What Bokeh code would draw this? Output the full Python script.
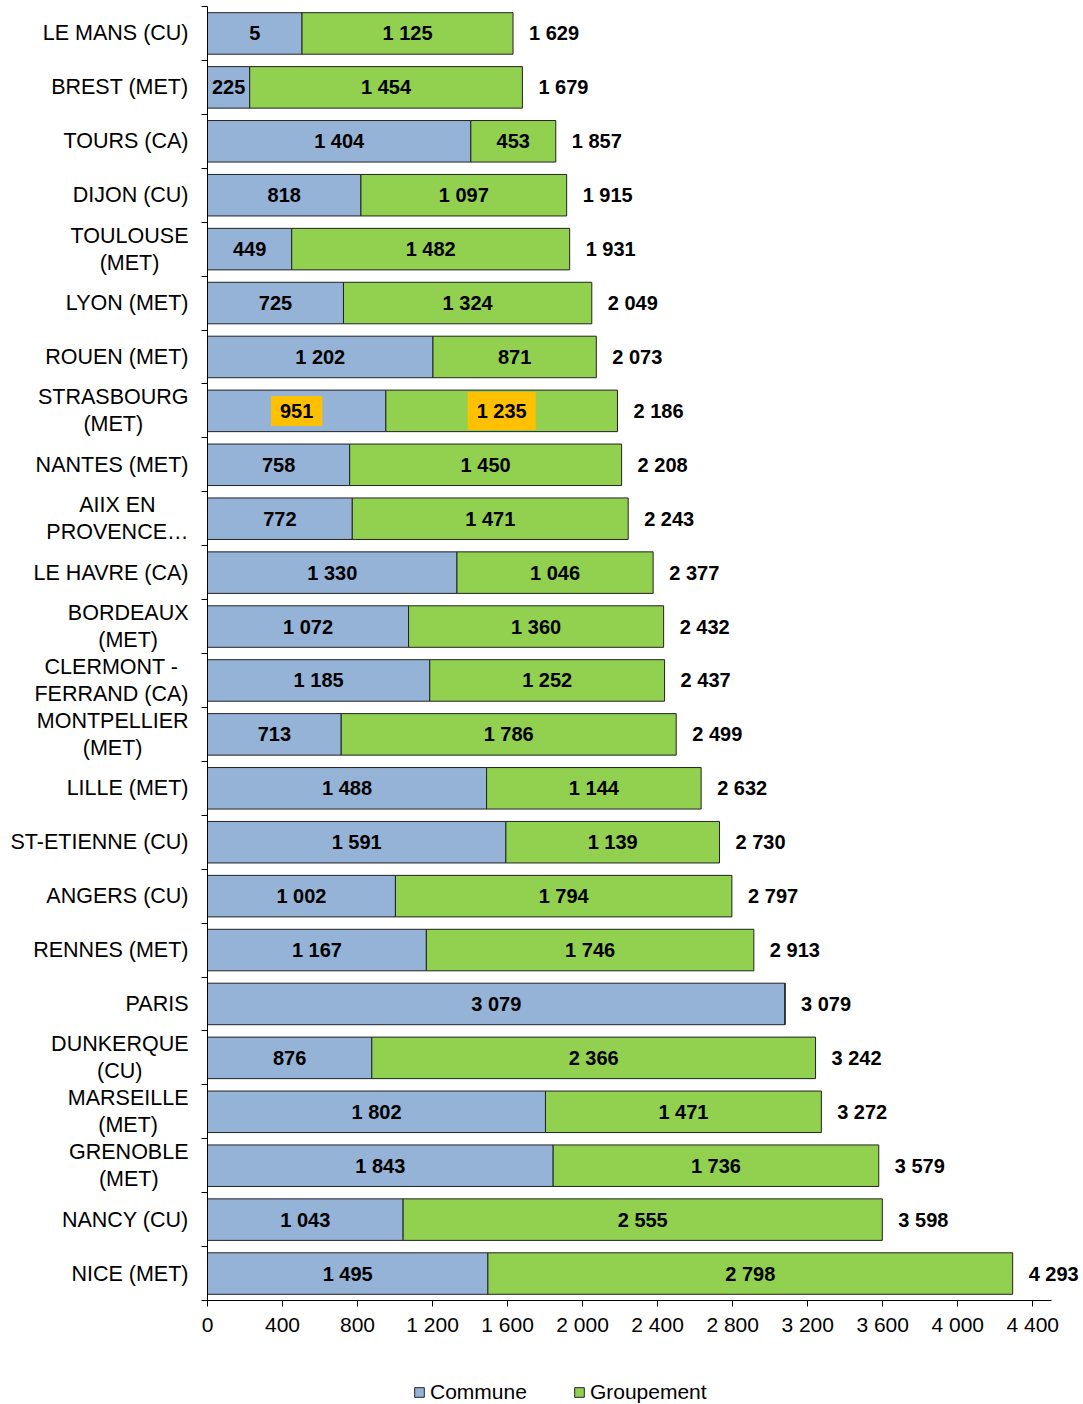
from bokeh.plotting import figure
from bokeh.models import ColumnDataSource, Range1d, FixedTicker, Legend, LegendItem
from bokeh.models.glyphs import Text
from bokeh.core.properties import value
from bokeh.embed import file_html
from bokeh.resources import INLINE

categories = [
    "LE MANS (CU)", "BREST (MET)", "TOURS (CA)", "DIJON (CU)", "TOULOUSE\n(MET)",
    "LYON (MET)", "ROUEN (MET)", "STRASBOURG\n(MET)", "NANTES (MET)", "AIIX EN\nPROVENCE…",
    "LE HAVRE (CA)", "BORDEAUX\n(MET)", "CLERMONT -\nFERRAND (CA)", "MONTPELLIER\n(MET)",
    "LILLE (MET)", "ST-ETIENNE (CU)", "ANGERS (CU)", "RENNES (MET)", "PARIS",
    "DUNKERQUE\n(CU)", "MARSEILLE\n(MET)", "GRENOBLE\n(MET)", "NANCY (CU)", "NICE (MET)",
]
commune = [504, 225, 1404, 818, 449, 725, 1202, 951, 758, 772, 1330, 1072, 1185, 713,
           1488, 1591, 1002, 1167, 3079, 876, 1802, 1843, 1043, 1495]
groupement = [1125, 1454, 453, 1097, 1482, 1324, 871, 1235, 1450, 1471, 1046, 1360, 1252, 1786,
              1144, 1139, 1794, 1746, 0, 2366, 1471, 1736, 2555, 2798]
totals = [1629, 1679, 1857, 1915, 1931, 2049, 2073, 2186, 2208, 2243, 2377, 2432, 2437, 2499,
          2632, 2730, 2797, 2913, 3079, 3242, 3272, 3579, 3598, 4293]
commune_labels = ["5", "225", "1 404", "818", "449", "725", "1 202", "951", "758", "772",
                  "1 330", "1 072", "1 185", "713", "1 488", "1 591", "1 002", "1 167", "3 079",
                  "876", "1 802", "1 843", "1 043", "1 495"]
x_ticks = [0, 400, 800, 1200, 1600, 2000, 2400, 2800, 3200, 3600, 4000, 4400]
x_tick_labels = ["0", "400", "800", "1 200", "1 600", "2 000", "2 400", "2 800", "3 200",
                 "3 600", "4 000", "4 400"]
x_axis_max = 4500
highlighted = ["STRASBOURG\n(MET)"]
series_names = ["Commune", "Groupement"]

BLUE = "#95B3D7"
GREEN = "#92D050"
HILITE = "#FFC000"
FONT = "Liberation Sans"

# canvas / plot-area geometry (pixels)
W, H = 1083, 1404
PL, PR, PT, PB = 207, 1051, 6, 1300


def fmt(v):
    return f"{v:,}".replace(",", " ")


n = len(categories)
idx = list(range(n))
g_right = [c + g for c, g in zip(commune, groupement)]
bg = [HILITE if c in highlighted else None for c in categories]

sx = x_axis_max / (PR - PL)
band = (PB - PT) / n
x_range = Range1d(-PL * sx, (W - PL) * sx)
y_range = Range1d(n - 0.5 + (H - PB) / band, -0.5 - PT / band)

src = ColumnDataSource(dict(
    y=idx, commune=commune, g_right=g_right, totals=totals, zero=[0] * n,
    c_mid=[c / 2 for c in commune],
    g_mid=[c + g / 2 for c, g in zip(commune, groupement)],
    c_lab=commune_labels,
    g_lab=[fmt(g) if g > 0 else "" for g in groupement],
    t_lab=[fmt(t) for t in totals],
    cat=categories,
    bg=bg,
))

p = figure(width=W, height=H, x_range=x_range, y_range=y_range,
           output_backend="svg", toolbar_location=None,
           min_border_left=0, min_border_right=0, min_border_top=0, min_border_bottom=0)
p.outline_line_color = None
p.xgrid.visible = False
p.ygrid.visible = False

r1 = p.hbar(y="y", left=0, right="commune", height=0.77, source=src,
            fill_color=BLUE, line_color="#222222", line_width=1)
r2 = p.hbar(y="y", left="commune", right="g_right", height=0.77, source=src,
            fill_color=GREEN, line_color="#222222", line_width=1)

common = dict(text_font=value(FONT), text_font_style="bold", text_font_size="20px",
              text_baseline="middle", text_color="black")
p.text(x="c_mid", y="y", text="c_lab", text_align="center", source=src,
       background_fill_color="bg", padding=(9, 8), **common)
p.text(x="g_mid", y="y", text="g_lab", text_align="center", source=src,
       background_fill_color="bg", padding=(9, 8), **common)
p.text(x="totals", y="y", text="t_lab", text_align="left", x_offset=16, source=src, **common)

# category labels: block right-aligned next to the axis, lines centred
cat_kw = dict(text_font=value(FONT), text_font_size="21.5px", text_color="black",
              text_line_height=1.12)
if "anchor" in Text.properties():
    p.text(x="zero", y="y", text="cat", x_offset=-19, source=src,
           anchor="center_right", text_align="center", text_baseline="middle", **cat_kw)
else:
    p.text(x="zero", y="y", text="cat", x_offset=-19, source=src,
           text_align="right", text_baseline="middle", **cat_kw)

# y axis (ticks at band boundaries)
ya = p.yaxis[0]
ya.fixed_location = 0
ya.bounds = (-0.5, n - 0.5)
ya.ticker = FixedTicker(ticks=idx, minor_ticks=[i - 0.5 for i in range(n + 1)])
ya.major_tick_line_color = None
ya.minor_tick_in = 0
ya.minor_tick_out = 6
ya.minor_tick_line_color = "black"
ya.axis_line_color = "black"
ya.major_label_text_color = None

# x axis
xa = p.xaxis[0]
xa.fixed_location = n - 0.5
xa.bounds = (0, x_axis_max)
xa.ticker = FixedTicker(ticks=x_ticks, minor_ticks=[])
xa.major_label_overrides = {t: l for t, l in zip(x_ticks, x_tick_labels)}
xa.major_tick_in = 0
xa.major_tick_out = 6
xa.major_tick_line_color = "black"
xa.axis_line_color = "black"
xa.major_label_standoff = 6
xa.major_label_text_font = FONT
xa.major_label_text_font_size = "21px"
xa.major_label_text_color = "black"

legend = Legend(items=[LegendItem(label=series_names[0], renderers=[r1]),
                       LegendItem(label=series_names[1], renderers=[r2])],
                orientation="horizontal", location=(413, 0),
                glyph_width=12, glyph_height=12, label_standoff=5, spacing=46,
                padding=0, margin=0, border_line_color=None, background_fill_alpha=0,
                label_text_font=FONT, label_text_font_size="21px", label_text_color="black")
p.add_layout(legend, "center")

open("out.html", "w").write(file_html(p, INLINE))
